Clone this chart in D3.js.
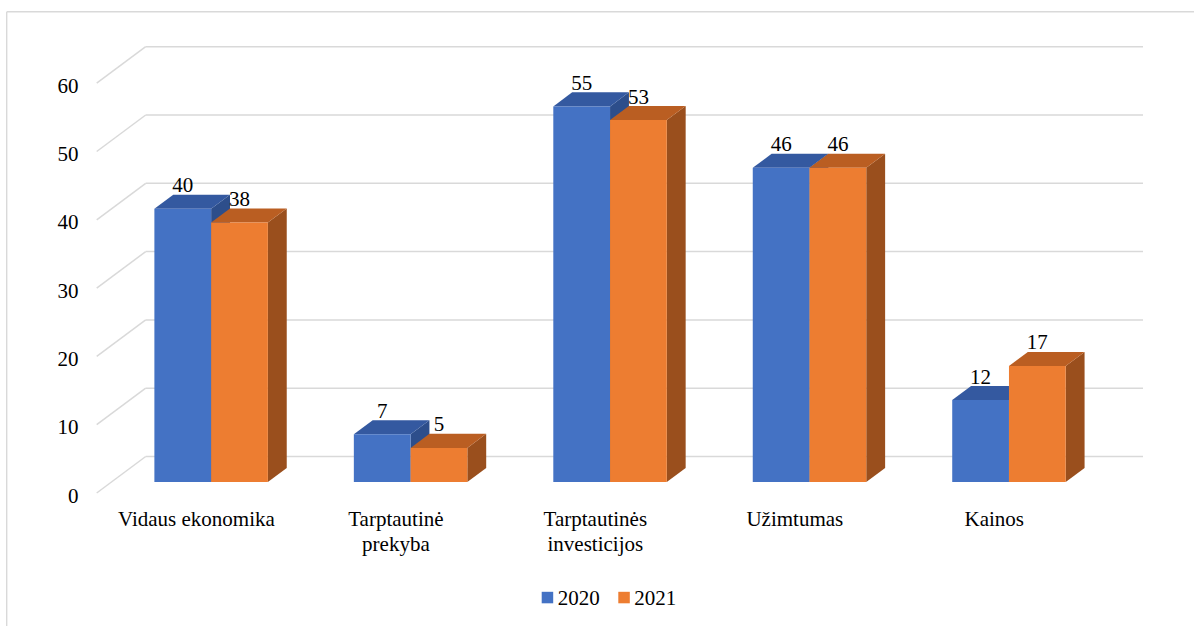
<!DOCTYPE html>
<html>
<head>
<meta charset="utf-8">
<script src="https://cdn.jsdelivr.net/npm/d3@7"></script>
<style>
  html, body { margin: 0; padding: 0; background: #ffffff; }
  svg { display: block; }
</style>
</head>
<body>
<svg id="chart" width="1194" height="626"></svg>
<script>
// Categories and series
const categories = ["Vidaus ekonomika", "Tarptautinė prekyba", "Tarptautinės investicijos", "Užimtumas", "Kainos"];
const categoryLines = [["Vidaus ekonomika"], ["Tarptautinė", "prekyba"], ["Tarptautinės", "investicijos"], ["Užimtumas"], ["Kainos"]];
const seriesNames = ["2020", "2021"];
const values2020 = [40, 7, 55, 46, 12];
const values2021 = [38, 5, 53, 46, 17];
const tickValues = [0, 10, 20, 30, 40, 50, 60];

const seriesValues = [values2020, values2021];
const colors = {
  "2020": { front: "#4472C4", top: "#3459A0", side: "#2D4E8B" },
  "2021": { front: "#ED7D31", top: "#BA5E22", side: "#9A4F1D" }
};

// Pick the first installed serif face (width probe against monospace fallback)
function pickFont(cands) {
  const ctx = document.createElement("canvas").getContext("2d");
  const probe = "Vidaus ekonomika 0123456789 Wmi";
  ctx.font = "40px monospace";
  const wMono = ctx.measureText(probe).width;
  ctx.font = "40px sans-serif";
  const wSans = ctx.measureText(probe).width;
  for (const c of cands) {
    ctx.font = `40px "${c}", monospace`;
    const w1 = ctx.measureText(probe).width;
    ctx.font = `40px "${c}", sans-serif`;
    const w2 = ctx.measureText(probe).width;
    if (Math.abs(w1 - wMono) > 0.5 || Math.abs(w2 - wSans) > 0.5) return `"${c}"`;
  }
  return "serif";
}
const FONT = pickFont(["Liberation Serif", "Times New Roman", "Tinos", "DejaVu Serif", "Noto Serif", "FreeSerif", "Times"]);

const svg = d3.select("#chart").style("font-family", FONT);

// Outer frame (only top and left edges fall inside the page)
svg.append("line").attr("x1", 6.7).attr("x2", 1194).attr("y1", 11.7).attr("y2", 11.7)
  .attr("stroke", "#d9d9d9").attr("stroke-width", 1.4);
svg.append("line").attr("x1", 6.7).attr("x2", 6.7).attr("y1", 11.7).attr("y2", 626)
  .attr("stroke", "#d9d9d9").attr("stroke-width", 1.4);

// Back-wall coordinate system
const x = d3.scaleBand().domain(categories).range([145.7, 1143]).paddingInner(0.431).paddingOuter(0.2155);
const xs = d3.scaleBand().domain(seriesNames).range([0, x.bandwidth()]);
const y = d3.scaleLinear().domain([0, 60]).range([456.5, 46.7]);

// Full floor depth vector (back wall -> front edge)
const depth = { dx: -49, dy: 36.5 };
const proj = (px, py, t) => [px + t * depth.dx, py + t * depth.dy];
const tFront = 0.70, tBack = 0.315;

const addText = (sel) => sel.append("text").style("font-family", FONT).attr("font-size", 21).attr("fill", "#000");

// Gridlines: back wall + left side wall diagonals
const grid = svg.append("g");
tickValues.forEach(v => {
  const yy = y(v);
  grid.append("line").attr("x1", 145.7).attr("x2", 1143).attr("y1", yy).attr("y2", yy)
    .attr("stroke", "#d9d9d9").attr("stroke-width", 1.5);
  const [fx, fy] = proj(145.7, yy, 1);
  grid.append("line").attr("x1", 145.7).attr("y1", yy).attr("x2", fx).attr("y2", fy)
    .attr("stroke", "#d9d9d9").attr("stroke-width", 1.5);
  addText(svg).attr("x", 78.5).attr("y", fy + 9.5).attr("text-anchor", "end").text(v);
});

// 3D bars
const bars = svg.append("g");
const pt = p => p.join(",");
categories.forEach((cat, i) => {
  seriesNames.forEach((s, j) => {
    const v = seriesValues[j][i];
    const x0 = x(cat) + xs(s), x1 = x0 + xs.bandwidth();
    const y0 = y(0), y1 = y(v);
    const fBL = proj(x0, y0, tFront), fBR = proj(x1, y0, tFront);
    const fTL = proj(x0, y1, tFront), fTR = proj(x1, y1, tFront);
    const bBR = proj(x1, y0, tBack), bTL = proj(x0, y1, tBack), bTR = proj(x1, y1, tBack);
    const c = colors[s];
    bars.append("polygon").attr("points", [fBR, bBR, bTR, fTR].map(pt).join(" ")).attr("fill", c.side);
    bars.append("polygon").attr("points", [fTL, fTR, bTR, bTL].map(pt).join(" ")).attr("fill", c.top);
    bars.append("polygon").attr("points", [fBL, fBR, fTR, fTL].map(pt).join(" ")).attr("fill", c.front);
    // value label above the bar top
    addText(svg).attr("x", (fTL[0] + fTR[0]) / 2).attr("y", bTL[1] - 2.5)
      .attr("text-anchor", "middle").text(v);
  });
});

// Category labels along the front floor edge
categories.forEach((cat, i) => {
  const cx = x(cat) + x.bandwidth() / 2 + depth.dx;
  const base = y(0) + depth.dy + 33;
  const t = addText(svg).attr("text-anchor", "middle");
  categoryLines[i].forEach((line, k) => {
    t.append("tspan").attr("x", cx).attr("y", base + k * 25).text(line);
  });
});

// Legend
const legend = svg.append("g");
const legendX = [541.7, 618.3];
seriesNames.forEach((s, j) => {
  legend.append("rect").attr("x", legendX[j]).attr("y", 591.8).attr("width", 11.5).attr("height", 11.5)
    .attr("fill", colors[s].front);
  addText(legend).attr("x", legendX[j] + 16).attr("y", 604.5).text(s);
});
</script>
</body>
</html>
